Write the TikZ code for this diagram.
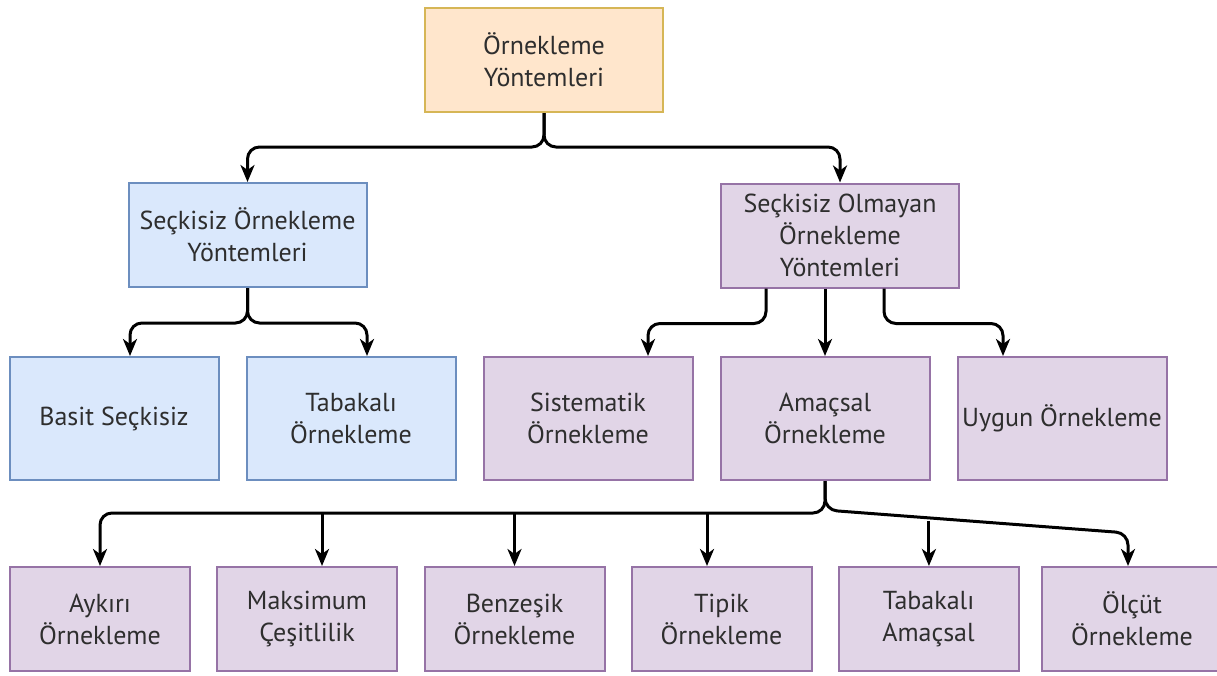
\documentclass[tikz,border=0pt]{standalone}
\usepackage{fontspec}
\setmainfont{PT Sans}
\usetikzlibrary{arrows.meta,calc}

\definecolor{peachfill}{HTML}{FFE6CC}
\definecolor{peachline}{HTML}{D6B656}
\definecolor{bluefill}{HTML}{DAE8FC}
\definecolor{blueline}{HTML}{6C8EBF}
\definecolor{purplefill}{HTML}{E1D5E7}
\definecolor{purpleline}{HTML}{9673A6}
\definecolor{txt}{HTML}{2E2E2E}

\tikzset{
  box/.style={draw, line width=2pt, align=center, text=txt, inner sep=2pt,
    font=\fontsize{26}{32}\selectfont},
  rootbox/.style={box, fill=peachfill, draw=peachline},
  randbox/.style={box, fill=bluefill, draw=blueline},
  nonrandbox/.style={box, fill=purplefill, draw=purpleline},
  wide/.style={minimum width=238pt, minimum height=104pt},
  mid/.style={minimum width=209pt, minimum height=123pt},
  leaf/.style={minimum width=180pt, minimum height=104pt},
  link/.style={line width=3pt, rounded corners=12pt,
    -{Stealth[length=17pt, width=14pt, inset=5pt]}}
}

\begin{document}
\begin{tikzpicture}[x=1pt, y=-1pt]
\useasboundingbox (0,0) rectangle (1217,675);
\clip (0,0) rectangle (1217,675);

% top level
\node[rootbox, wide] (root) at (544,60) {Örnekleme\\Yöntemleri};

% second level
\node[randbox, wide] (rand) at (247.5,235) {Seçkisiz Örnekleme\\Yöntemleri};
\node[nonrandbox, wide] (nonrand) at (840,235.5) {Seçkisiz Olmayan\\Örnekleme\\Yöntemleri};

% third level
\node[randbox, mid] (basit) at (114,418.5) {Basit Seçkisiz};
\node[randbox, mid] (tabaka) at (351,418.5) {Tabakalı\\Örnekleme};
\node[nonrandbox, mid] (sist) at (588,418.5) {Sistematik\\Örnekleme};
\node[nonrandbox, mid] (amac) at (825,418.5) {Amaçsal\\Örnekleme};
\node[nonrandbox, mid] (uygun) at (1062,418.5) {Uygun Örnekleme};

% purposive sampling kinds
\node[nonrandbox, leaf] (aykiri) at (100,619) {Aykırı\\Örnekleme};
\node[nonrandbox, leaf] (maks) at (307,619) {Maksimum\\Çeşitlilik};
\node[nonrandbox, leaf] (benz) at (514.5,619) {Benzeşik\\Örnekleme};
\node[nonrandbox, leaf] (tipik) at (721.5,619) {Tipik\\Örnekleme};
\node[nonrandbox, leaf] (tabam) at (928.5,619) {Tabakalı\\Amaçsal};
\node[nonrandbox, leaf] (olcut) at (1132,619) {Ölçüt\\Örnekleme};

% root -> second level
\draw[link] (root.south) -- ++(0,34) -| (rand.north);
\draw[link] (root.south) -- ++(0,34) -| (nonrand.north);

% random sampling branches
\draw[link] (rand.south) -- ++(0,35) -| ([xshift=16pt]basit.north);
\draw[link] (rand.south) -- ++(0,35) -| ([xshift=16pt]tabaka.north);

% non-random sampling branches
\draw[link] ([xshift=-74pt]nonrand.south) -- ++(0,35) -| ([xshift=60pt]sist.north);
\draw[link] ([xshift=-15pt]nonrand.south) -- (amac.north);
\draw[link] ([xshift=44pt]nonrand.south) -- ++(0,35) -| ([xshift=-59pt]uygun.north);

% purposive sampling branches
\coordinate (split) at ($(amac.south)+(0,32)$);
\coordinate (slope) at ($(olcut.north)+(-4,-33)$);
\draw[link] (amac.south) -- (split) -| (aykiri.north);
\draw[link] (amac.south) -- ([yshift=3pt]split) -- (slope) -- ([xshift=-4pt]olcut.north);
\draw[link] ([xshift=15pt]maks.north |- split) -- ([xshift=15pt]maks.north);
\draw[link] (benz.north |- split) -- (benz.north);
\draw[link] ([xshift=-14.5pt]tipik.north |- split) -- ([xshift=-14.5pt]tipik.north);
\coordinate (tabsplit) at ($(split)!0.343!(slope)+(0,1)$);
\draw[link] (tabsplit) -- (tabsplit |- tabam.north);
\end{tikzpicture}
\end{document}
